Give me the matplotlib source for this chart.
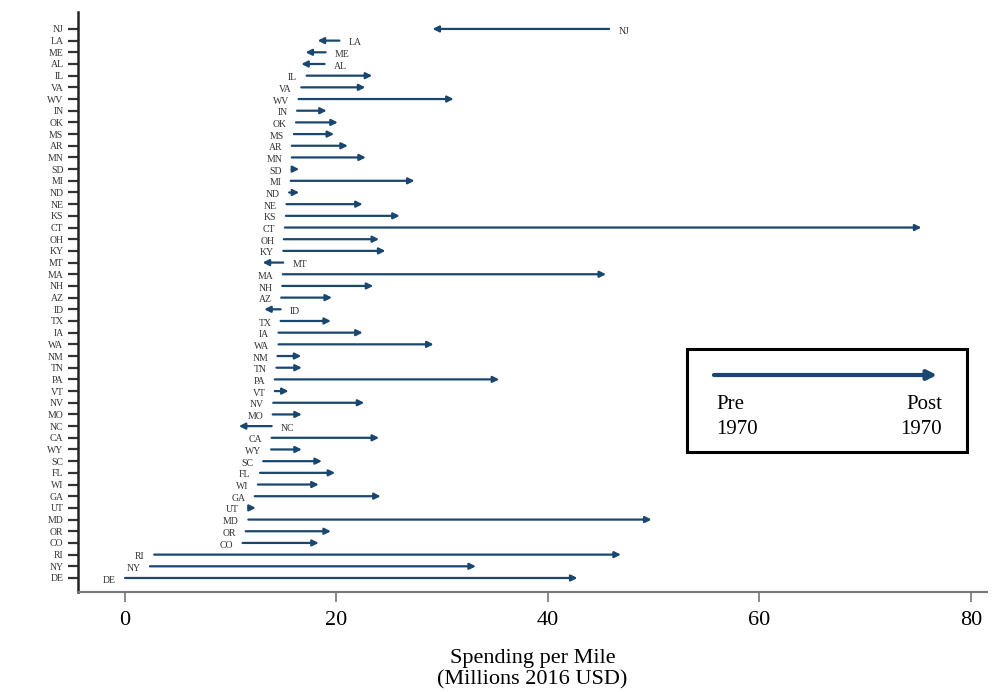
import matplotlib
matplotlib.use("Agg")
import matplotlib.pyplot as plt
from matplotlib.patches import Rectangle

plt.rcParams['font.family'] = ['Liberation Serif', 'DejaVu Serif']

# States, top to bottom
states = ["NJ", "LA", "ME", "AL", "IL", "VA", "WV", "IN", "OK", "MS", "AR", "MN",
          "SD", "MI", "ND", "NE", "KS", "CT", "OH", "KY", "MT", "MA", "NH", "AZ",
          "ID", "TX", "IA", "WA", "NM", "TN", "PA", "VT", "NV", "MO", "NC", "CA",
          "WY", "SC", "FL", "WI", "GA", "UT", "MD", "OR", "CO", "RI", "NY", "DE"]
# Spending per mile pre-1970 (arrow tail)
pre1970 = [45.8, 20.3, 19.0, 18.9, 17.2, 16.7, 16.45, 16.3, 16.2, 16.0, 15.8, 15.8,
           15.8, 15.7, 15.55, 15.3, 15.25, 15.15, 15.05, 15.0, 15.0, 14.95, 14.9, 14.8,
           14.75, 14.75, 14.55, 14.55, 14.45, 14.35, 14.2, 14.2, 14.05, 14.0, 13.9, 13.9,
           13.85, 13.1, 12.8, 12.6, 12.3, 11.7, 11.7, 11.45, 11.15, 2.8, 2.4, 0.05]
# Spending per mile post-1970 (arrow head)
post1970 = [29.1, 18.25, 17.1, 16.7, 23.4, 22.75, 31.1, 19.1, 20.15, 19.8, 21.1, 22.8,
            16.5, 27.4, 16.5, 22.5, 26.0, 75.3, 24.05, 24.65, 13.05, 45.5, 23.5, 19.6,
            13.2, 19.5, 22.5, 29.2, 16.7, 16.75, 35.4, 15.5, 22.65, 16.75, 10.8, 24.05,
            16.75, 18.65, 19.9, 18.35, 24.2, 12.4, 49.8, 19.5, 18.35, 46.9, 33.2, 42.8]
xticks = [0, 20, 40, 60, 80]

NAVY = '#1a476f'

fig = plt.figure(figsize=(10.02, 6.92), dpi=100)
ax = fig.add_axes([78/1002, 1-592/692, (987-78)/1002, (592-12)/692])

n = len(states)
ys = [n - 1 - i for i in range(n)]

for s, y, a, b in zip(states, ys, pre1970, post1970):
    ax.annotate('', xy=(b, y), xytext=(a, y),
                arrowprops=dict(arrowstyle='-|>', color=NAVY, lw=1.6,
                                mutation_scale=9, shrinkA=0, shrinkB=0))
    if b >= a:
        ax.annotate(s, xy=(a, y), xytext=(-6.8, -1.5), textcoords='offset points',
                    ha='right', va='center', fontsize=7, color='#333333')
    else:
        ax.annotate(s, xy=(a, y), xytext=(6.8, -1.5), textcoords='offset points',
                    ha='left', va='center', fontsize=7, color='#333333')

ax.set_xlim(-4.4, 81.5)
ax.set_ylim(-1.2, n - 1 + 1.45)
ax.set_yticks(ys)
ax.set_yticklabels(states, fontsize=7, color='#333333')
ax.set_xticks(xticks)
ax.set_xticklabels([str(t) for t in xticks], fontsize=16)
ax.set_xlabel('Spending per Mile\n(Millions 2016 USD)', fontsize=16, labelpad=13,
              linespacing=1.2)

for side in ['top', 'right']:
    ax.spines[side].set_visible(False)
ax.spines['left'].set_linewidth(1.8)
ax.spines['left'].set_color('#222222')
ax.spines['bottom'].set_linewidth(1.5)
ax.spines['bottom'].set_color('#777777')
ax.tick_params(axis='y', length=7, width=1.6, color='#333333', pad=3.5)
ax.tick_params(axis='x', length=7, width=1.2, color='#777777', pad=7)

# Legend box (figure pixels)
W, H = 1002, 692
box = Rectangle((687/W, 1-452/H), (967-687)/W, (452-349)/H, transform=fig.transFigure,
                fill=False, edgecolor='black', lw=2.2)
fig.patches.append(box)
fig.add_artist(matplotlib.patches.FancyArrowPatch(
    (714/W, 1-375/H), (937/W, 1-375/H), transform=fig.transFigure,
    arrowstyle='-|>', color=NAVY, lw=3.0, mutation_scale=14, shrinkA=0, shrinkB=0))
fig.text(716/W, 1-395/H, 'Pre\n1970', ha='left', va='top', fontsize=15, linespacing=1.4)
fig.text(942/W, 1-395/H, 'Post\n1970', ha='right', va='top', fontsize=15,
         linespacing=1.4, multialignment='right')

fig.savefig('out.png', dpi=100, facecolor='white')
